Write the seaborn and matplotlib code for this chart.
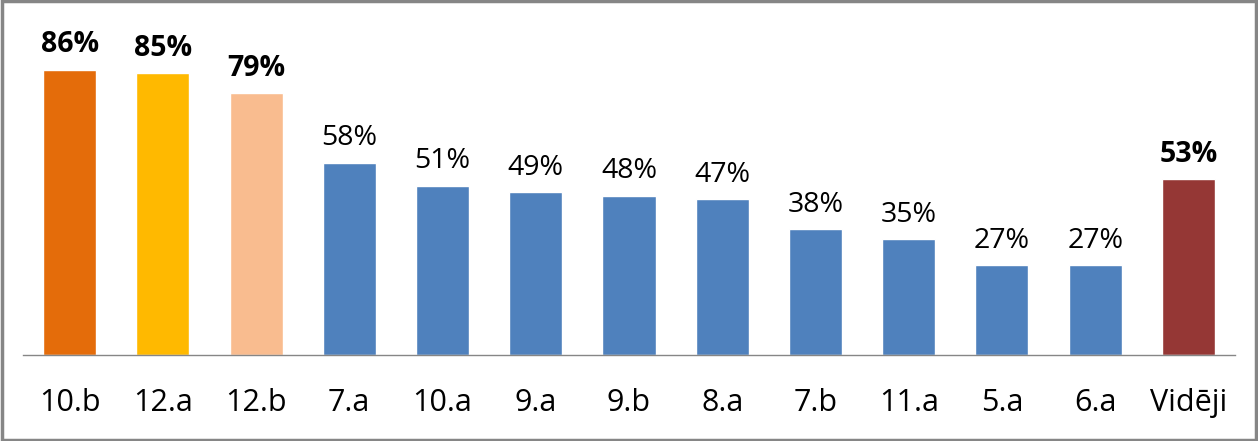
import matplotlib
matplotlib.use("Agg")
import matplotlib.pyplot as plt
import seaborn as sns
import pandas as pd

categories = ["10.b", "12.a", "12.b", "7.a", "10.a", "9.a", "9.b", "8.a", "7.b", "11.a", "5.a", "6.a", "Vidēji"]
values = [86, 85, 79, 58, 51, 49, 48, 47, 38, 35, 27, 27, 53]
colors = ["#E46C0A", "#FFB900", "#F9BC8F"] + ["#4F81BD"] * 9 + ["#953735"]
bold = [True, True, True] + [False] * 9 + [True]

sns.set_theme(style="white")
plt.rcParams['font.family'] = ['Open Sans', 'DejaVu Sans']

df = pd.DataFrame({"cat": categories, "val": values})

fig = plt.figure(figsize=(12.58, 4.41), dpi=100)
ax = fig.add_axes([23 / 1258, (441 - 355) / 441, 1212 / 1258, 330 / 441])
sns.barplot(data=df, x="cat", y="val", hue="cat", palette=colors, legend=False,
            width=0.57, ax=ax, saturation=1)
ax.set_xlim(-0.5, len(categories) - 0.5)
ax.set_ylim(0, 99.5)
ax.set_xlabel("")
ax.set_ylabel("")
ax.set_yticks([])
for s in ["top", "right", "left"]:
    ax.spines[s].set_visible(False)
ax.spines["bottom"].set_color("#868686")
ax.spines["bottom"].set_linewidth(1.0)
ax.tick_params(axis="x", length=0, pad=24, labelsize=22)
for lbl in ax.get_xticklabels():
    lbl.set_color("black")

for i, (v, b) in enumerate(zip(values, bold)):
    ax.annotate(f"{v}%", xy=(i, v), xytext=(0, 12.5), textcoords="offset points",
                ha="center", va="baseline", fontsize=20.5,
                fontweight="bold" if b else "normal", color="black")

border = plt.Rectangle((0.0015, 0.003), 0.997, 0.994, transform=fig.transFigure,
                       fill=False, edgecolor="#868686", linewidth=2.5)
fig.patches.append(border)

fig.savefig("out.png", dpi=100)
